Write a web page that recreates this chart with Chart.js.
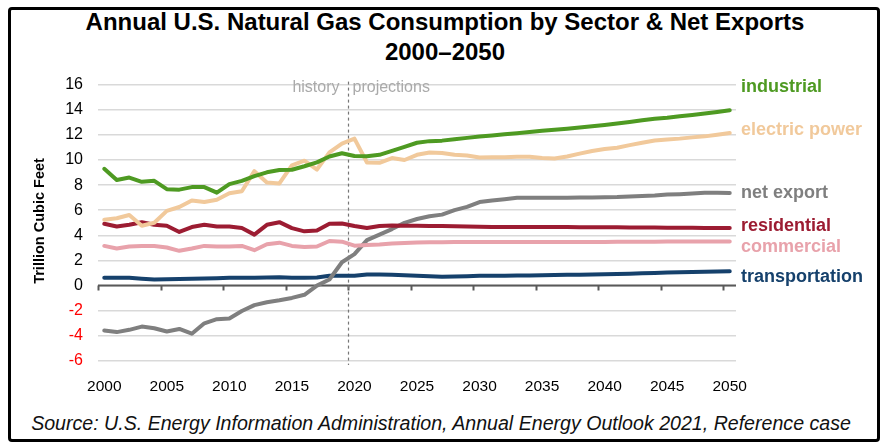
<!DOCTYPE html>
<html><head><meta charset="utf-8">
<script src="https://cdn.jsdelivr.net/npm/chart.js@4/dist/chart.umd.min.js"></script>
<style>
html,body{margin:0;padding:0;background:#fff;}
#wrap{position:relative;width:888px;height:447px;overflow:hidden;font-family:"Liberation Sans",Arial,sans-serif;}
#frame{position:absolute;left:8px;top:7px;width:866px;height:429px;border:3px solid #000;border-radius:4px;}
.title{position:absolute;left:0;width:890px;text-align:center;font-weight:bold;font-size:24px;line-height:28px;color:#000;}
#src{position:absolute;left:0;width:882px;text-align:center;top:411px;font-style:italic;font-size:19.6px;line-height:24px;color:#111;}
#c{position:absolute;left:0;top:60px;}
</style></head>
<body><div id="wrap">
<div id="frame"></div>
<div class="title" style="top:8px">Annual U.S. Natural Gas Consumption by Sector &amp; Net Exports</div>
<div class="title" style="top:38px">2000–2050</div>
<canvas id="c" width="888" height="340"></canvas>
<div id="src">Source: U.S. Energy Information Administration, Annual Energy Outlook 2021, Reference case</div>
</div>
<script>
const years = [2000,2001,2002,2003,2004,2005,2006,2007,2008,2009,2010,2011,2012,2013,2014,2015,2016,2017,2018,2019,2020,2021,2022,2023,2024,2025,2026,2027,2028,2029,2030,2031,2032,2033,2034,2035,2036,2037,2038,2039,2040,2041,2042,2043,2044,2045,2046,2047,2048,2049,2050];
const xTickYears = [2000,2005,2010,2015,2020,2025,2030,2035,2040,2045,2050];
const yTicks = [-6,-4,-2,0,2,4,6,8,10,12,14,16];
const industrial = [9.30,8.40,8.60,8.26,8.34,7.68,7.64,7.84,7.84,7.40,8.08,8.34,8.72,9.02,9.20,9.22,9.50,9.81,10.28,10.54,10.32,10.30,10.41,10.72,11.05,11.37,11.50,11.54,11.65,11.76,11.86,11.95,12.04,12.12,12.22,12.32,12.40,12.49,12.59,12.68,12.78,12.90,13.02,13.16,13.28,13.36,13.48,13.58,13.70,13.82,13.95];
const electricPower = [5.25,5.36,5.62,4.76,5.00,5.95,6.26,6.78,6.65,6.83,7.35,7.51,9.11,8.21,8.13,9.58,9.94,9.24,10.61,11.31,11.70,9.80,9.77,10.15,10.00,10.41,10.59,10.56,10.41,10.36,10.20,10.22,10.22,10.25,10.25,10.15,10.12,10.28,10.51,10.72,10.87,10.98,11.18,11.37,11.55,11.63,11.70,11.80,11.88,12.01,12.14];
const netExport = [-3.57,-3.70,-3.52,-3.26,-3.39,-3.65,-3.45,-3.83,-3.00,-2.67,-2.62,-2.02,-1.55,-1.32,-1.17,-0.98,-0.73,0.00,0.49,1.86,2.51,3.62,4.06,4.50,5.00,5.30,5.52,5.65,6.01,6.27,6.65,6.78,6.88,6.99,6.99,6.99,7.00,7.00,7.01,7.02,7.04,7.05,7.10,7.14,7.18,7.25,7.28,7.33,7.40,7.40,7.38];
const residential = [4.92,4.71,4.84,5.05,4.84,4.76,4.27,4.66,4.84,4.71,4.71,4.58,4.06,4.84,5.05,4.58,4.32,4.38,4.92,4.95,4.74,4.58,4.74,4.78,4.77,4.76,4.75,4.74,4.72,4.70,4.68,4.67,4.67,4.66,4.66,4.66,4.66,4.66,4.65,4.65,4.65,4.64,4.63,4.62,4.62,4.61,4.60,4.60,4.59,4.59,4.58];
const commercial = [3.16,2.95,3.11,3.16,3.16,3.03,2.77,2.95,3.16,3.11,3.11,3.16,2.82,3.29,3.42,3.16,3.08,3.11,3.55,3.50,3.18,3.24,3.28,3.35,3.40,3.43,3.45,3.46,3.47,3.47,3.47,3.47,3.47,3.47,3.47,3.47,3.48,3.48,3.48,3.48,3.48,3.49,3.49,3.50,3.50,3.51,3.51,3.51,3.52,3.52,3.52];
const transportation = [0.62,0.62,0.62,0.55,0.49,0.50,0.52,0.54,0.56,0.58,0.62,0.62,0.63,0.64,0.66,0.62,0.62,0.64,0.78,0.78,0.78,0.88,0.88,0.86,0.82,0.78,0.74,0.70,0.72,0.75,0.78,0.78,0.79,0.80,0.81,0.83,0.84,0.86,0.87,0.89,0.91,0.93,0.95,0.98,1.01,1.04,1.06,1.08,1.10,1.12,1.14];
const seriesNames = ["industrial","electric power","net export","residential","commercial","transportation"];
const historyEnd = 2019.5;

const colors = {industrial:"#4e9a22","electric power":"#f1c99b","net export":"#7f7f7f",residential:"#9c1c32",commercial:"#e8a2ab",transportation:"#16416c"};
const labelY = {industrial:87,"electric power":130,"net export":193,residential:226,commercial:247,transportation:277};
const seriesVals = [industrial,electricPower,netExport,residential,commercial,transportation];
const drawOrder = [0,1,3,4,2,5];
const CANVAS_TOP = 60;
const FONT = '"Liberation Sans", Arial, sans-serif';

const datasets = drawOrder.map((si, k) => ({
  label: seriesNames[si],
  data: years.map((yr, i) => ({x: yr, y: seriesVals[si][i]})),
  borderColor: colors[seriesNames[si]],
  borderWidth: 4,
  pointRadius: 0,
  tension: 0,
  borderJoinStyle: 'round',
  borderCapStyle: 'round',
  order: k
}));

const decor = {
  id: 'decor',
  beforeDatasetsDraw(chart) {
    const {ctx, chartArea: a, scales: {x, y}} = chart;
    const y0 = y.getPixelForValue(0);
    ctx.save();
    ctx.strokeStyle = '#595959';
    ctx.lineWidth = 2;
    ctx.beginPath();
    ctx.moveTo(a.left, y0); ctx.lineTo(a.right, y0);
    xTickYears.forEach(t => {
      const px = Math.round(x.getPixelForValue(t - 0.5)) + 0.5;
      ctx.moveTo(px, y0); ctx.lineTo(px, y0 + 5);
    });
    ctx.stroke();
    const dx = Math.round(x.getPixelForValue(historyEnd)) + 0.5;
    ctx.strokeStyle = '#777';
    ctx.lineWidth = 1.2;
    ctx.setLineDash([3, 3]);
    ctx.beginPath();
    ctx.moveTo(dx, a.top - 3); ctx.lineTo(dx, a.bottom + 4);
    ctx.stroke();
    ctx.setLineDash([]);
    ctx.fillStyle = '#aaaaaa';
    ctx.font = '16px ' + FONT;
    ctx.textBaseline = 'middle';
    ctx.textAlign = 'right';
    ctx.fillText('history', dx - 9, 88 - CANVAS_TOP);
    ctx.textAlign = 'left';
    ctx.fillText('projections', dx + 4, 88 - CANVAS_TOP);
    ctx.restore();
  },
  afterDraw(chart) {
    const {ctx} = chart;
    ctx.save();
    ctx.font = 'bold 18px ' + FONT;
    ctx.textBaseline = 'middle';
    ctx.textAlign = 'left';
    seriesNames.forEach(n => {
      ctx.fillStyle = colors[n];
      ctx.fillText(n, 741, labelY[n] - CANVAS_TOP);
    });
    ctx.translate(40, 221 - CANVAS_TOP);
    ctx.rotate(-Math.PI / 2);
    ctx.textAlign = 'center';
    ctx.fillStyle = '#000';
    ctx.font = 'bold 14.5px ' + FONT;
    ctx.fillText('Trillion Cubic Feet', 0, 0);
    ctx.restore();
  }
};

new Chart(document.getElementById('c'), {
  type: 'line',
  data: {datasets},
  options: {
    responsive: false,
    animation: false,
    layout: {padding: {left: 0, top: 18, right: 152, bottom: 0}},
    plugins: {legend: {display: false}, tooltip: {enabled: false}, title: {display: false}},
    scales: {
      x: {
        type: 'linear', min: 1999.5, max: 2050.5,
        afterBuildTicks: s => { s.ticks = xTickYears.map(v => ({value: v})); },
        afterFit: s => { s.height = 39; },
        grid: {display: false, drawTicks: false},
        border: {display: false},
        ticks: {padding: 16, color: '#000', font: {family: FONT, size: 15.5}, maxRotation: 0, autoSkip: false, callback: v => String(v)}
      },
      y: {
        min: -6, max: 16,
        afterBuildTicks: s => { s.ticks = yTicks.map(v => ({value: v})); },
        afterFit: s => { s.width = 98; },
        grid: {color: '#d9d9d9', lineWidth: 1.5, drawTicks: false},
        border: {display: false},
        ticks: {padding: 15, font: {family: FONT, size: 16},
          color: c => (c.tick && c.tick.value < 0) ? '#ff0000' : '#000',
          callback: v => String(v)}
      }
    }
  },
  plugins: [decor]
});
</script>
</body></html>
